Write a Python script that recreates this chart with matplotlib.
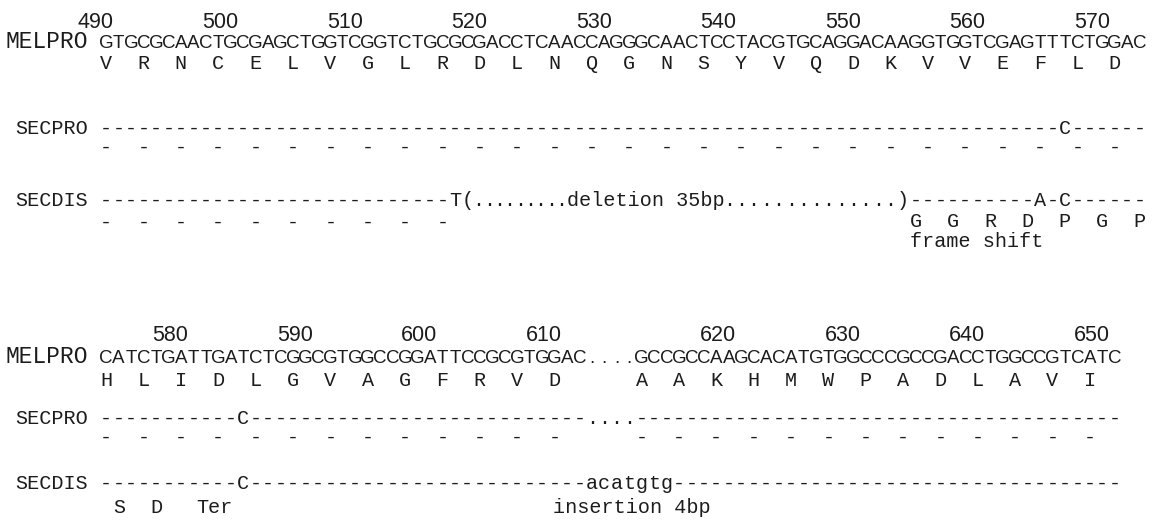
import matplotlib
matplotlib.use("Agg")
import matplotlib.pyplot as plt

# ---- data ----
start1 = 490
mel1 = "GTGCGCAACTGCGAGCTGGTCGGTCTGCGCGACCTCAACCAGGGCAACTCCTACGTGCAGGACAAGGTGGTCGAGTTTCTGGAC"
aa1 = "VRNCELVGLRDLNQGNSYVQDKVVEFLD"
secpro1 = "-" * 77 + "C" + "-" * 6
secdis1_left = "-" * 28 + "T("
deletion_dots = "........."
deletion_note = "deletion 35bp"
secdis1_right = ")" + "-" * 10 + "A-C" + "-" * 6
secdis1_codons = 10
shift_aa = "GGRDPGP"
shift_col = 65

start2 = 574
mel2 = "CATCTGATTGATCTCGGCGTGGCCGGATTCCGCGTGGAC" + "...." + "GCCGCCAAGCACATGTGGCCCGCCGACCTGGCCGTCATC"
aa2 = "HLIDLGVAGFRVD" + "AAKHMWPADLAVI"
secpro2 = "-" * 11 + "C" + "-" * 27 + "...." + "-" * 39
secdis2 = "-" * 11 + "C" + "-" * 27 + "acatgtg" + "-" * 36
stop_labels = ["S", "D", "Ter"]
stop_cols = [1, 4, 7.7]
insertion_note = "insertion 4bp"
insertion_col = 36.4

# ---- layout ----
W, H = 1155, 532
X0, CW = 100, 12.45          # left edge of sequence column 0, pitch in px
INK = "#1c1c1c"
MONO = "Liberation Mono"
SANS = "Liberation Sans"

fig = plt.figure(figsize=(W / 100, H / 100), dpi=100)
ax = fig.add_axes([0, 0, 1, 1])
ax.set_xlim(-X0 / CW, (W - X0) / CW)
ax.set_ylim(H, 0)
ax.axis("off")


def put_chars(seq, y, col0=0, pitch=1.0, family=MONO, size=14.5):
    # one glyph per alignment column
    for i, ch in enumerate(seq):
        if ch != " ":
            ax.text(col0 + (i + 0.5) * pitch, y, ch, ha="center", va="baseline",
                    family=family, fontsize=size, color=INK)


def note(s, y, col, size=14.5):
    ax.text(col, y, s, ha="left", va="baseline", family=MONO,
            fontsize=size, color=INK)


def codon_cols(seq):
    # first base of every codon, gaps ('.') skipped
    cols, n = [], 0
    for i, ch in enumerate(seq):
        if ch != ".":
            if n % 3 == 0:
                cols.append(i)
            n += 1
    return cols


def number_row(seq, start, y):
    n = start
    for i, ch in enumerate(seq):
        if ch == ".":
            continue
        if n % 10 == 0:
            ax.text(i + 1.1, y, str(n), ha="right", va="baseline",
                    family=SANS, fontsize=15.5, color=INK)
        n += 1


def label(name, y, size=14.5):
    ax.text(-0.95, y, name, ha="right", va="baseline",
            family=MONO, fontsize=size, color=INK)


# ---- block 1 ----
number_row(mel1, start1, 28)
label("MELPRO", 48, 16.5)
put_chars(mel1, 48, family=SANS, size=13.5)
for c, a in zip(codon_cols(mel1), aa1):
    put_chars(a, 69, c)

label("SECPRO", 134)
put_chars(secpro1, 134)
for c in codon_cols(mel1):
    put_chars("-", 153, c)

label("SECDIS", 206)
put_chars(secdis1_left, 206)
col = len(secdis1_left)
put_chars(deletion_dots, 206, col, 0.83)
col += len(deletion_dots) * 0.83
note(deletion_note, 206, col)
gap_start = round(col + len(deletion_note) * 0.97)
gap_end = len(mel1) - len(secdis1_right)
put_chars("." * (gap_end - gap_start), 206, gap_start)
put_chars(secdis1_right, 206, gap_end)
for c in codon_cols(mel1)[:secdis1_codons]:
    put_chars("-", 228, c)
for k, a in enumerate(shift_aa):
    put_chars(a, 227, shift_col + 3 * k)
note("frame shift", 247, shift_col + 0.05)

# ---- block 2 ----
number_row(mel2, start2, 341)
label("MELPRO", 363, 16.5)
put_chars(mel2, 363, family=SANS, size=13.5)
for c, a in zip(codon_cols(mel2), aa2):
    put_chars(a, 386, c)

label("SECPRO", 424)
put_chars(secpro2, 424)
for c in codon_cols(mel2):
    put_chars("-", 443, c)

label("SECDIS", 489)
put_chars(secdis2, 489)
for c, s in zip(stop_cols, stop_labels):
    note(s, 513, c + 0.05)
note(insertion_note, 513, insertion_col)

fig.savefig("out.png", dpi=100, facecolor="white")
